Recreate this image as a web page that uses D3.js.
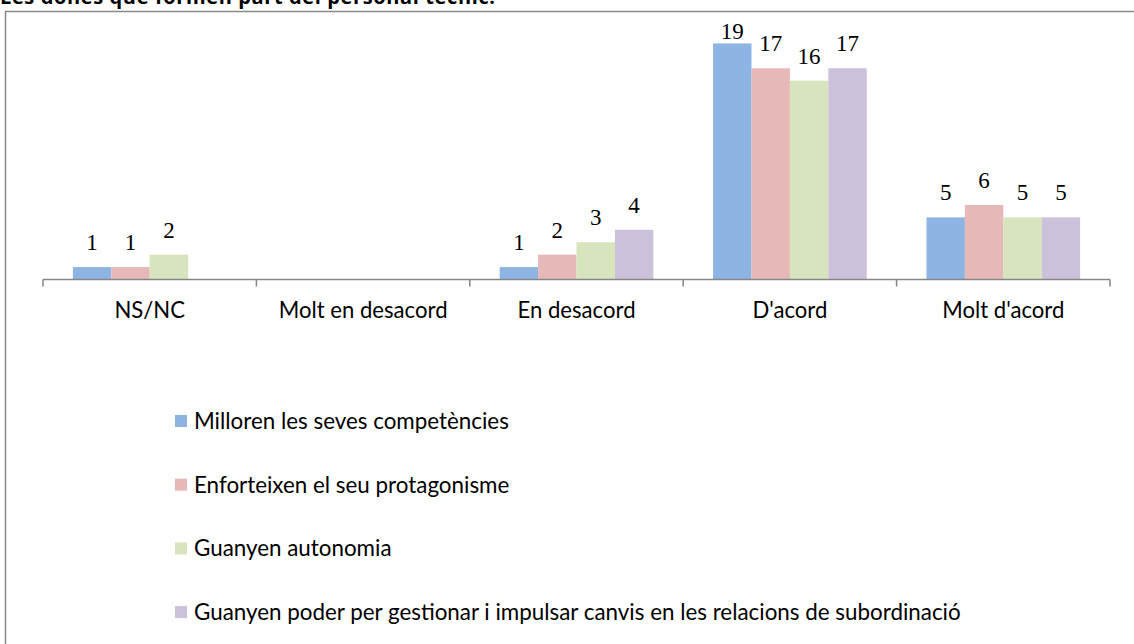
<!DOCTYPE html>
<html lang="ca">
<head>
<meta charset="UTF-8">
<title>Les dones que formen part del personal tècnic</title>
<script src="https://d3js.org/d3.v7.min.js"></script>
<style>
    body { margin: 0; background: #fff; }
    svg { display: block; }
    .cat text { font-family: Lato, "Open Sans", sans-serif; fill: #000; }
    .val { font-family: "Liberation Serif", serif; font-size: 23px; fill: #000; }
    .legend text { font-family: Lato, "Open Sans", sans-serif; fill: #000; }
</style>
</head>
<body>
<script>
    const categories = ["NS/NC", "Molt en desacord", "En desacord", "D'acord", "Molt d'acord"];
    const seriesNames = [
        "Milloren les seves competències",
        "Enforteixen el seu protagonisme",
        "Guanyen autonomia",
        "Guanyen poder per gestionar i impulsar canvis en les relacions de subordinació"
    ];
    const seriesColors = ["#8eb4e3", "#e6b9b8", "#d7e4bd", "#ccc1da"];
    // values per series, in the order of categories (null = no bar)
    const milloren = [1, null, 1, 19, 5];
    const enforteixen = [1, null, 2, 17, 6];
    const autonomia = [2, null, 3, 16, 5];
    const poder = [null, null, 4, 17, 5];
    const seriesValues = [milloren, enforteixen, autonomia, poder];

    const width = 1134, height = 644;
    const svg = d3.select("body").append("svg")
        .attr("width", width)
        .attr("height", height);

    // chart frame (cut off at right and bottom)
    svg.append("rect")
        .attr("x", 5.5).attr("y", 11.5)
        .attr("width", 1300).attr("height", 800)
        .attr("fill", "none")
        .attr("stroke", "#888")
        .attr("stroke-width", 1.5);

    // title, partly cropped at the top
    svg.append("text")
        .attr("x", 0).attr("y", 4)
        .attr("font-family", "Open Sans, sans-serif")
        .attr("font-weight", "bold")
        .attr("font-size", 20)
        .attr("textLength", 495)
        .text("Les dones que formen part del personal tècnic.");

    const x0 = d3.scaleBand()
        .domain(categories)
        .range([43, 1110]);

    const bw = x0.bandwidth();
    const x1 = d3.scaleBand()
        .domain(d3.range(seriesNames.length))
        .range([bw * 0.14, bw * 0.86]);

    const y = d3.scaleLinear()
        .domain([0, 20])
        .range([279.5, 31]);

    const bars = [];
    seriesValues.forEach((vals, s) => {
        vals.forEach((v, c) => {
            if (v != null) bars.push({ s: s, cat: categories[c], v: v });
        });
    });

    svg.append("g").selectAll("rect")
        .data(bars)
        .enter().append("rect")
        .attr("x", d => x0(d.cat) + x1(d.s))
        .attr("y", d => y(d.v))
        .attr("width", x1.bandwidth())
        .attr("height", d => y(0) - y(d.v))
        .attr("fill", d => seriesColors[d.s]);

    svg.append("g").selectAll("text")
        .data(bars)
        .enter().append("text")
        .attr("class", "val")
        .attr("x", d => x0(d.cat) + x1(d.s) + x1.bandwidth() / 2)
        .attr("y", d => Math.max(y(d.v) - 17, 39))
        .attr("text-anchor", "middle")
        .text(d => d.v);

    // fit a font size so that one text gets the width seen in the picture
    function fitSize(sel, target) {
        sel.style("font-size", "20px");
        const w = sel.node().getComputedTextLength();
        return 20 * target / w;
    }

    // category axis
    const axis = svg.append("g")
        .attr("class", "cat")
        .attr("transform", `translate(0,${y(0)})`)
        .call(d3.axisBottom(x0).tickSize(0).tickPadding(0));
    axis.select(".domain").remove();
    const catText = axis.selectAll("text").attr("dy", null).attr("y", 38);
    const catSize = fitSize(catText.filter(d => d === "Molt en desacord"), 169);
    catText.style("font-size", catSize + "px");

    svg.append("line")
        .attr("x1", 43).attr("x2", 1110)
        .attr("y1", y(0)).attr("y2", y(0))
        .attr("stroke", "#868686")
        .attr("stroke-width", 1.5);

    const tickPos = categories.map(c => x0(c)).concat([1110]);
    svg.append("g").selectAll("line")
        .data(tickPos)
        .enter().append("line")
        .attr("x1", d => d).attr("x2", d => d)
        .attr("y1", y(0)).attr("y2", y(0) + 7)
        .attr("stroke", "#868686")
        .attr("stroke-width", 1.5);

    // legend
    const legend = svg.append("g").attr("class", "legend");
    const rows = legend.selectAll("g")
        .data(seriesNames)
        .enter().append("g")
        .attr("transform", (d, i) => `translate(175,${421 + i * 63.7})`);
    rows.append("rect")
        .attr("x", 0).attr("y", -6)
        .attr("width", 12).attr("height", 12)
        .attr("fill", (d, i) => seriesColors[i]);
    const legText = rows.append("text")
        .attr("x", 19).attr("y", 8)
        .text(d => d);
    const legSize = fitSize(legText.filter((d, i) => i === 3), 767);
    legText.style("font-size", legSize + "px");
</script>
</body>
</html>
